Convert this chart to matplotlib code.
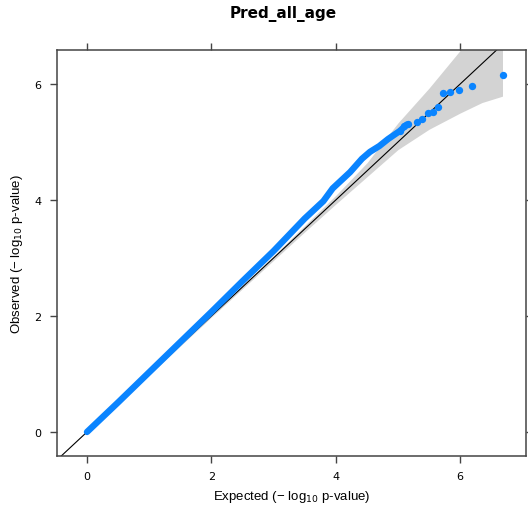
#!/usr/bin/env python3
# qq plot, Pred_all_age

import matplotlib
matplotlib.use("Agg")
import matplotlib.pyplot as plt

# dense part of the qq curve (expected, observed)
exp_line = [0.0, 0.5, 1.0, 1.5, 2.0, 2.5, 3.0, 3.5, 3.8, 3.95, 4.1, 4.23, 4.42,
            4.55, 4.7, 4.84, 5.03, 5.14]
obs_line = [0.0, 0.51, 1.03, 1.55, 2.07, 2.6, 3.12, 3.68, 3.98, 4.2, 4.35, 4.48,
            4.71, 4.83, 4.93, 5.05, 5.19, 5.3]

# the sparse top hits
exp_pts = [5.03, 5.1, 5.16, 5.30, 5.38, 5.48, 5.57, 5.65, 5.72, 5.84, 5.98, 6.19, 6.69]
obs_pts = [5.19, 5.27, 5.31, 5.34, 5.40, 5.50, 5.51, 5.60, 5.84, 5.86, 5.89, 5.97, 6.16]

# confidence band
band_x = [0.0, 2.0, 3.0, 3.5, 4.0, 4.5, 5.0, 5.5, 6.0, 6.35, 6.68]
band_hi = [0.01, 2.02, 3.04, 3.56, 4.08, 4.64, 5.33, 5.93, 6.58, 7.0, 7.4]
band_lo = [-0.01, 1.98, 2.96, 3.45, 3.93, 4.40, 4.87, 5.22, 5.50, 5.68, 5.79]

ticks = [0, 2, 4, 6]
title = "Pred_all_age"
blue = "#0a84ff"
frame = "#444444"


def main():
    fig = plt.figure(figsize=(5.28, 5.10), dpi=100)
    ax = fig.add_axes([57 / 528, 53 / 510, 469 / 528, 406 / 510])

    ax.fill_between(band_x, band_lo, band_hi, color="#d3d3d3", lw=0, zorder=1)
    ax.plot([-1, 8], [-1, 8], color="black", lw=0.8, zorder=2)
    ax.plot(exp_line, obs_line, color=blue, lw=4.6, solid_capstyle="round",
            solid_joinstyle="round", zorder=3)
    ax.scatter(exp_pts, obs_pts, s=28, color=blue, lw=0, zorder=4)

    ax.set_xlim(-0.482, 7.058)
    ax.set_ylim(-0.414, 6.586)
    ax.set_xticks(ticks)
    ax.set_yticks(ticks)
    ax.tick_params(which="both", direction="out", length=5, width=1, color=frame,
                   labelsize=8, top=True, right=True, pad=6)
    for s in ax.spines.values():
        s.set_color(frame)
        s.set_linewidth(1.1)

    lab = dict(fontsize=9.5, family="Liberation Sans")
    ax.set_xlabel("Expected (\u2212 log$_{10}$ p-value)", labelpad=5, **lab)
    ax.set_ylabel("Observed (\u2212 log$_{10}$ p-value)", labelpad=7, **lab)
    fig.text(283.5 / 528, 1 - 14 / 510, title, ha="center", va="center",
             fontsize=11, fontweight="bold")

    fig.savefig("out.png", dpi=100)


if __name__ == "__main__":
    main()
